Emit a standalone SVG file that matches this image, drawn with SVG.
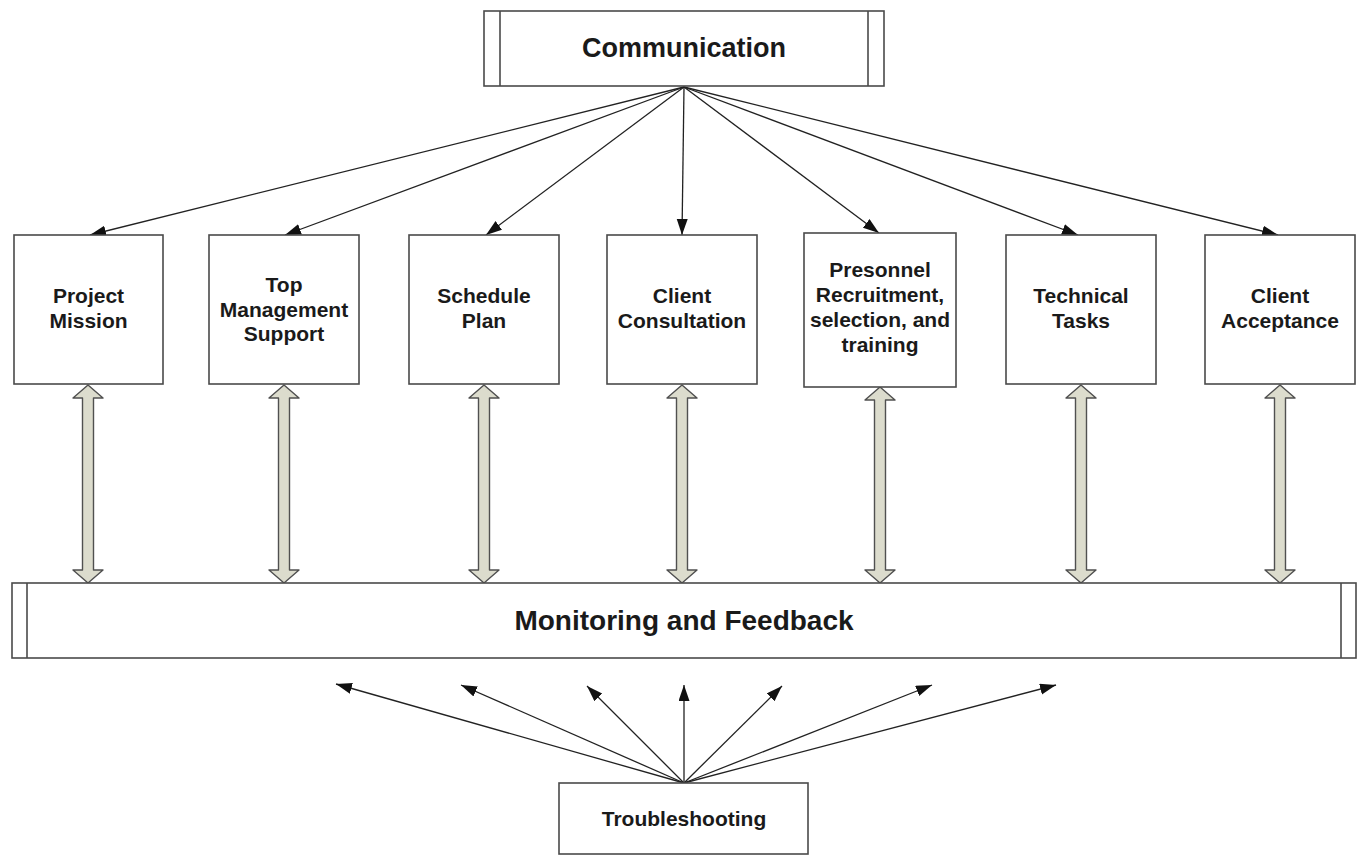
<svg xmlns="http://www.w3.org/2000/svg" width="1361" height="856" viewBox="0 0 1361 856">
<style>
.box{fill:#fff;stroke:#4a4a4a;stroke-width:1.6}
.bar{fill:none;stroke:#4a4a4a;stroke-width:1.6}
.lbl{font-family:"Liberation Sans",Arial,sans-serif;font-weight:bold;font-size:21px;fill:#1a1a1a;text-anchor:middle}
.big{font-size:27px}
.big2{font-size:28px}
.con{stroke:#222;stroke-width:1.3;fill:none;marker-end:url(#ah)}
.dbl{fill:#dcdccd;stroke:#505050;stroke-width:1.4;stroke-linejoin:round}
</style>
<defs>
<marker id="ah" markerUnits="userSpaceOnUse" markerWidth="18" markerHeight="12" refX="16" refY="5.5" orient="auto">
<path d="M0,0 L16,5.5 L0,11 z" fill="#111"/>
</marker>
</defs>
<rect width="1361" height="856" fill="#fff"/>

<g id="connectors">
<line class="con" x1="684" y1="87" x2="90" y2="235"/>
<line class="con" x1="684" y1="87" x2="285" y2="235"/>
<line class="con" x1="684" y1="87" x2="486" y2="235"/>
<line class="con" x1="684" y1="87" x2="682" y2="235"/>
<line class="con" x1="684" y1="87" x2="879" y2="233"/>
<line class="con" x1="684" y1="87" x2="1078" y2="235"/>
<line class="con" x1="684" y1="87" x2="1278" y2="235"/>

<line class="con" x1="684" y1="783" x2="336" y2="684"/>
<line class="con" x1="684" y1="783" x2="461" y2="685"/>
<line class="con" x1="684" y1="783" x2="587" y2="686"/>
<line class="con" x1="684" y1="783" x2="684" y2="685"/>
<line class="con" x1="684" y1="783" x2="782" y2="686"/>
<line class="con" x1="684" y1="783" x2="932" y2="685"/>
<line class="con" x1="684" y1="783" x2="1056" y2="685"/>

<polygon class="dbl" points="88,385 103,398 93.5,398 93.5,570 103,570 88,583 73,570 82.5,570 82.5,398 73,398"/>
<polygon class="dbl" points="284,385 299,398 289.5,398 289.5,570 299,570 284,583 269,570 278.5,570 278.5,398 269,398"/>
<polygon class="dbl" points="484,385 499,398 489.5,398 489.5,570 499,570 484,583 469,570 478.5,570 478.5,398 469,398"/>
<polygon class="dbl" points="682,385 697,398 687.5,398 687.5,570 697,570 682,583 667,570 676.5,570 676.5,398 667,398"/>
<polygon class="dbl" points="880,387 895,400 885.5,400 885.5,570 895,570 880,583 865,570 874.5,570 874.5,400 865,400"/>
<polygon class="dbl" points="1081,385 1096,398 1086.5,398 1086.5,570 1096,570 1081,583 1066,570 1075.5,570 1075.5,398 1066,398"/>
<polygon class="dbl" points="1280,385 1295,398 1285.5,398 1285.5,570 1295,570 1280,583 1265,570 1274.5,570 1274.5,398 1265,398"/>
</g>

<g id="communication">
<rect class="box" x="484" y="11" width="400" height="75"/>
<line class="bar" x1="500" y1="11" x2="500" y2="86"/>
<line class="bar" x1="868" y1="11" x2="868" y2="86"/>
<text class="lbl big" x="684" y="57">Communication</text>
</g>

<g id="project-mission">
<rect class="box" x="14" y="235" width="149" height="149"/>
<text class="lbl" x="88.5" y="303">Project</text>
<text class="lbl" x="88.5" y="328">Mission</text>
</g>

<g id="top-management-support">
<rect class="box" x="209" y="235" width="150" height="149"/>
<text class="lbl" x="284" y="292">Top</text>
<text class="lbl" x="284" y="317">Management</text>
<text class="lbl" x="284" y="341">Support</text>
</g>

<g id="schedule-plan">
<rect class="box" x="409" y="235" width="150" height="149"/>
<text class="lbl" x="484" y="303">Schedule</text>
<text class="lbl" x="484" y="328">Plan</text>
</g>

<g id="client-consultation">
<rect class="box" x="607" y="235" width="150" height="149"/>
<text class="lbl" x="682" y="303">Client</text>
<text class="lbl" x="682" y="328">Consultation</text>
</g>

<g id="personnel">
<rect class="box" x="804" y="233" width="152" height="154"/>
<text class="lbl" x="880" y="277">Presonnel</text>
<text class="lbl" x="880" y="302">Recruitment,</text>
<text class="lbl" x="880" y="327">selection, and</text>
<text class="lbl" x="880" y="352">training</text>
</g>

<g id="technical-tasks">
<rect class="box" x="1006" y="235" width="150" height="149"/>
<text class="lbl" x="1081" y="303">Technical</text>
<text class="lbl" x="1081" y="328">Tasks</text>
</g>

<g id="client-acceptance">
<rect class="box" x="1205" y="235" width="150" height="149"/>
<text class="lbl" x="1280" y="303">Client</text>
<text class="lbl" x="1280" y="328">Acceptance</text>
</g>

<g id="monitoring">
<rect class="box" x="12" y="583" width="1344" height="75"/>
<line class="bar" x1="27" y1="583" x2="27" y2="658"/>
<line class="bar" x1="1341" y1="583" x2="1341" y2="658"/>
<text class="lbl big2" x="684" y="630">Monitoring and Feedback</text>
</g>

<g id="troubleshooting">
<rect class="box" x="559" y="783" width="249" height="71"/>
<text class="lbl" x="684" y="826">Troubleshooting</text>
</g>
</svg>
